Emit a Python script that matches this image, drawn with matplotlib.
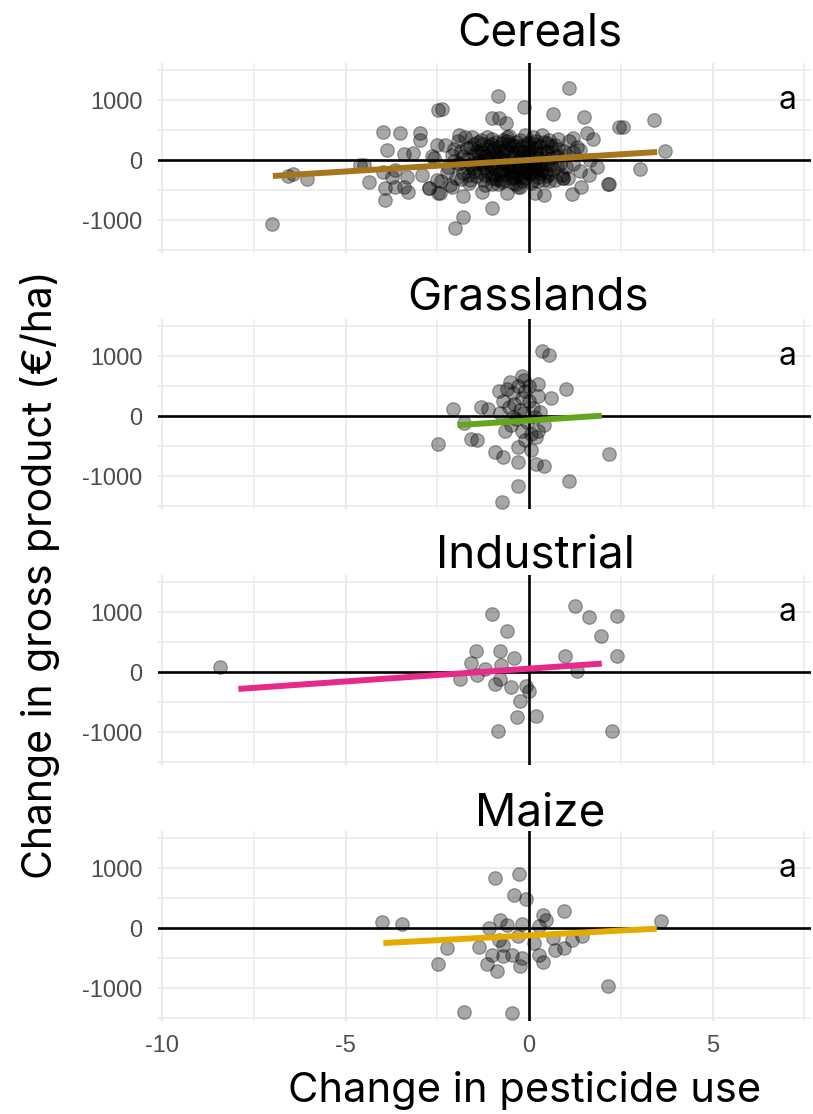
import numpy as np
import matplotlib.pyplot as plt

# panel names and regression line colours (Dark2)
crops = ['Cereals', 'Grasslands', 'Industrial', 'Maize']
line_colors = ['#A6761D', '#66A61E', '#E7298A', '#E6AB02']

# fitted lines: intercept, slope, x range
fit_intercept = [0, -74, 56, -123]
fit_slope = [38.2, 40, 42.7, 32.2]
fit_xmin = [-6.98, -1.95, -7.92, -3.97]
fit_xmax = [3.49, 1.98, 1.98, 3.48]

letters = ['a', 'a', 'a', 'a']

x_ticks = [-10, -5, 0, 5]
y_ticks = [-1000, 0, 1000]

# change in pesticide use / change in gross product
cereals_x = [-7.01, -6.56, -6.42, -6.06, -4.6, -4.51, -4.35, -3.97, -3.51, -2.97,
             -2.97, -3.86, -3.42, -3.15, -3.97, -3.74, -3.65, -3.33, -2.92, -3.92,
             -3.92, -3.65, -3.42, -3.29, -2.74, -2.65, -2.47, -2.51, -2.47, -2.51,
             -2.38, -0.86, -0.14, 1.10, 0.66, 1.50, -1.02, -0.81, -0.63, -2.02,
             -1.79, -1.02, 2.16, 1.16, 1.41, 1.64, 0.41, 0.92, -1.79, -2.43,
             -2.74, -2.11, -1.29, -0.59, -0.25, 0.16, 2.46, 2.55, 3.41, 3.71,
             3.01, 2.19, 0.93, 1.75, 1.57, 1.19, 1.84, 1.39, 1.66,
             -2.3, -2.2, -2.1, -2.0, -1.95, -1.9, -1.85, -1.8, -1.75, -1.7,
             -1.65, -1.6, -1.55, -1.5, -1.45, -1.4, -1.35, -1.3, -1.25, -1.2,
             -1.15, -1.1, -1.05, -1.0, -0.95, -0.9, -0.85, -0.8, -0.75, -0.7,
             -0.65, -0.6, -0.55, -0.5, -0.45, -0.4, -0.35, -0.3, -0.25, -0.2,
             -0.15, -0.1, -0.05, 0.0, 0.05, 0.1, 0.15, 0.2, 0.25, 0.3,
             0.35, 0.4, 0.45, 0.5, 0.55, 0.6, 0.7, 0.75, 0.8, 0.9,
             1.0, 1.1, 1.2, 1.3, 1.4,
             -2.25, -2.05, -1.9, -1.8, -1.7, -1.6, -1.5, -1.4, -1.3, -1.2,
             -1.1, -1.0, -0.9, -0.85, -0.75, -0.65, -0.6, -0.5, -0.4, -0.35,
             -0.3, -0.2, -0.15, -0.1, 0.0, 0.05, 0.1, 0.2, 0.25, 0.3,
             0.4, 0.45, 0.5, 0.6, 0.65, 0.8, 0.85, 0.95, 1.05, 1.2,
             -1.55, -1.25, -0.95, -0.55, -0.25, 0.15, 0.35, 0.7,
             -1.7, -1.45, -1.15, -0.8, -0.45, -0.1, 0.25, 0.55, -1.95, -2.4,
             -2.6, -1.35, -0.7, -0.05, 0.4, 1.0, -1.0, -0.3, 0.0, -2.15,
             -1.2, -1.1, -1.0, -0.9, -0.8, -0.7, -0.6, -0.5, -0.4, -0.3,
             -0.2, -0.1, 0.0, 0.1, 0.2,
             -1.25, -1.05, -0.95, -0.85, -0.75, -0.65, -0.55, -0.45, -0.35, -0.25,
             -0.15, -0.05, 0.05, 0.15, 0.25,
             -1.3, -1.15, -0.95, -0.8, -0.7, -0.6, -0.45, -0.35, -0.25, -0.1,
             0.05, 0.2, 0.3, 0.45, 0.6,
             -1.6, -1.5, -1.45, -1.35, -1.2, -1.05, -0.9, -0.75, -0.55, -0.4,
             -0.2, 0.1, 0.35, 0.55, 0.75,
             -1.85, -1.65, -2.05, -1.0, -0.6, -0.3, 0.0, 0.3, 0.5, 0.65]
cereals_y = [-1072, -267, -233, -322, -83, -83, -361, 472, 455, 455,
             333, 167, 100, 112, -195, -278, -167, -278, -250, -472,
             -667, -455, -445, -528, -472, 67, 833, 250, -556, -333,
             845, 1067, 888, 1195, 762, 722, 695, 695, 622, -1138,
             -945, -795, -405, -567, -445, -250, -583, -305, -600, -556,
             -472, -455, -528, -545, -445, -556, 555, 545, 667, 155,
             -155, -405, -305, 345, 445, 362, -112, 167, 0,
             250, -120, 80, -300, 320, -50, 150, -220, 380, 20,
             -380, 210, -140, 90, -260, 300, -30, 160, -330, 60,
             -180, 240, -90, 350, -250, 120, -400, 30, 280, -160,
             180, -60, 400, -300, 90, -200, 230, -20, 330, -350,
             140, -110, 260, -240, 50, 380, -150, 200, -280, 100,
             -40, 300, -200, 150, -350, 40, 250, -100, 180, -250,
             80, 320, -60, 220, -180,
             -200, 180, 420, 60, -110, -330, 260, 130, -70, -420,
             20, 170, -320, 220, -70, -240, 320, 130, -90, -400,
             180, 60, -220, 420, 150, -380, -80, 320, 30, -220,
             130, -70, -260, 230, -150, 350, -60, 150, -300, 130,
             380, 260, 40, -150, -280, 260, 420, -330,
             200, -50, 380, -180, 250, 0, -120, 330, -60, -350,
             30, -200, 90, -160, -330, -120, -400, -450, 300, -420,
             -250, 110, -60, 300, -330, -20, 170, -200, 40, -130,
             230, -300, 70, -210, 110,
             140, -210, -130, 70, 150, -330, -80, -260, 120, -160,
             -30, 110, 220, -60, -350,
             330, -10, 200, -240, 330, -140, -380, 300, 40, -200,
             -100, -170, 230, 30, -90,
             -70, -180, 150, 70, -110, 270, -40, -360, 260, -300,
             -80, -330, -170, -230, 60,
             -320, -250, -20, -300, 380, -250, -60, -100, 280, 110]

grass_x = [0.35, 0.53, -0.18, -0.53, 0.24, 1.0, -0.83, 0.59, 0.24, -2.06,
           -1.3, -1.12, -1.77, -2.48, -1.59, -1.42, 2.18, -0.94, -0.71, -0.29,
           0.18, 0.41, 1.10, -0.29, -0.73,
           -0.6, -0.45, -0.3, -0.2, -0.7, -0.55, -0.4, -0.25, -0.1, 0.0,
           0.1, -0.15, -0.35, -0.05, 0.15, 0.3, -0.5, -0.2, 0.05, -0.1,
           0.2, -0.3, 0.05, 0.25, -0.8, -0.65, 0.4, -0.15, 0.0, -0.45]
grass_y = [1084, 1011, 663, 562, 539, 449, 410, 298, 337, 112,
           146, 112, -124, -461, -376, -393, -629, -601, -685, -770,
           -798, -826, -1090, -1163, -1427,
           450, 380, 500, 300, 250, 150, 200, 100, 420, 250,
           130, 50, -50, -100, -20, 60, -150, -250, -300, -400,
           -350, -520, -560, -250, 50, -250, -150, 600, 500, -20]

ind_x = [-8.41, -1.0, -0.59, 1.26, 1.62, 2.39, 1.95, 2.39, 0.97, 1.30,
         -1.44, -0.79, -1.57, -1.2, -0.77, -0.41, -1.89, -1.42, -0.8, -0.94,
         -0.5, -0.09, 0.0, -0.26, -0.33, 0.18, -0.86, 2.26]
ind_y = [85, 975, 676, 1099, 913, 930, 603, 270, 265, 17,
         355, 355, 152, 56, 113, 237, -113, -45, -113, -197,
         -242, -225, -310, -479, -749, -732, -986, -986]

maize_x = [-4.01, -3.47, -0.92, -0.27, -0.41, -0.08, 0.94, 0.38, 0.45, -0.79,
           3.6, -1.08, -0.59, -0.18, 0.26, -2.24, -1.36, -0.71, -1.0, -0.47,
           -0.18, 0.26, 0.71, 0.94, 1.16, 1.44, 0.65, 0.12, -2.48, -1.16,
           -0.88, -0.24, 0.38, 2.16, -1.77, -0.47, -0.83, -0.29, -0.71]
maize_y = [95, 67, 836, 902, 557, 490, 290, 223, 139, 139,
           111, 0, 56, 72, 39, -334, -318, -279, -446, -446,
           -501, -446, -373, -334, -195, -128, -167, -251, -596, -596,
           -724, -630, -568, -964, -1393, -1421, -195, -139, -474]

xs = [cereals_x, grass_x, ind_x, maize_x]
ys = [cereals_y, grass_y, ind_y, maize_y]

W, H = 813, 1114
plt.rcParams['font.family'] = ['Inter', 'DejaVu Sans']
plt.rcParams['axes.unicode_minus'] = False
fig = plt.figure(figsize=(W / 100, H / 100), dpi=100)

title_base = [45, 310, 567, 826]
title_x = [540, 528, 535, 540]

for i in range(4):
    top = 63 + 256 * i
    ax = fig.add_axes([158 / W, 1 - (top + 190) / H, 653 / W, 190 / H])
    ax.set_xlim(-10.11, 7.68)
    ax.set_ylim(-1550, 1617)
    ax.set_xticks(x_ticks)
    ax.set_xticks([-7.5, -2.5, 2.5, 7.5], minor=True)
    ax.set_yticks(y_ticks)
    ax.set_yticks([-1500, -500, 500, 1500], minor=True)
    ax.grid(which='major', color='#ebebeb', lw=1.5)
    ax.grid(which='minor', color='#ebebeb', lw=1.2)
    ax.set_axisbelow(True)
    for s in ax.spines.values():
        s.set_visible(False)
    ax.tick_params(which='both', length=0)
    ax.tick_params(axis='y', pad=11, labelsize=17, labelcolor='#4d4d4d')
    ax.tick_params(axis='x', pad=10, labelsize=17, labelcolor='#4d4d4d')
    for lab in ax.get_xticklabels() + ax.get_yticklabels():
        lab.set_family('Liberation Sans')
    if i < 3:
        ax.set_xticklabels([])

    ax.axhline(0, color='black', lw=1.9, zorder=2)
    ax.axvline(0, color='black', lw=1.9, zorder=2)

    ax.scatter(xs[i], ys[i], s=95, color='black', alpha=0.34,
               edgecolors='black', linewidths=0.9, zorder=3)

    fx = np.array([fit_xmin[i], fit_xmax[i]])
    ax.plot(fx, fit_intercept[i] + fit_slope[i] * fx, color=line_colors[i],
            lw=4.3, solid_capstyle='butt', zorder=4)

    ax.text(7.03, 1000, letters[i], fontsize=23, ha='center', va='center')

    fig.text(title_x[i] / W, 1 - title_base[i] / H, crops[i], fontsize=33,
             ha='center', va='baseline')

fig.text(40 / W, 1 - 575 / H, 'Change in gross product (\u20ac/ha)', fontsize=29.5,
         rotation=90, ha='center', va='center')
fig.text(525 / W, 1 - 1102 / H, 'Change in pesticide use', fontsize=30,
         ha='center', va='baseline')

fig.savefig('out.png', dpi=100)
